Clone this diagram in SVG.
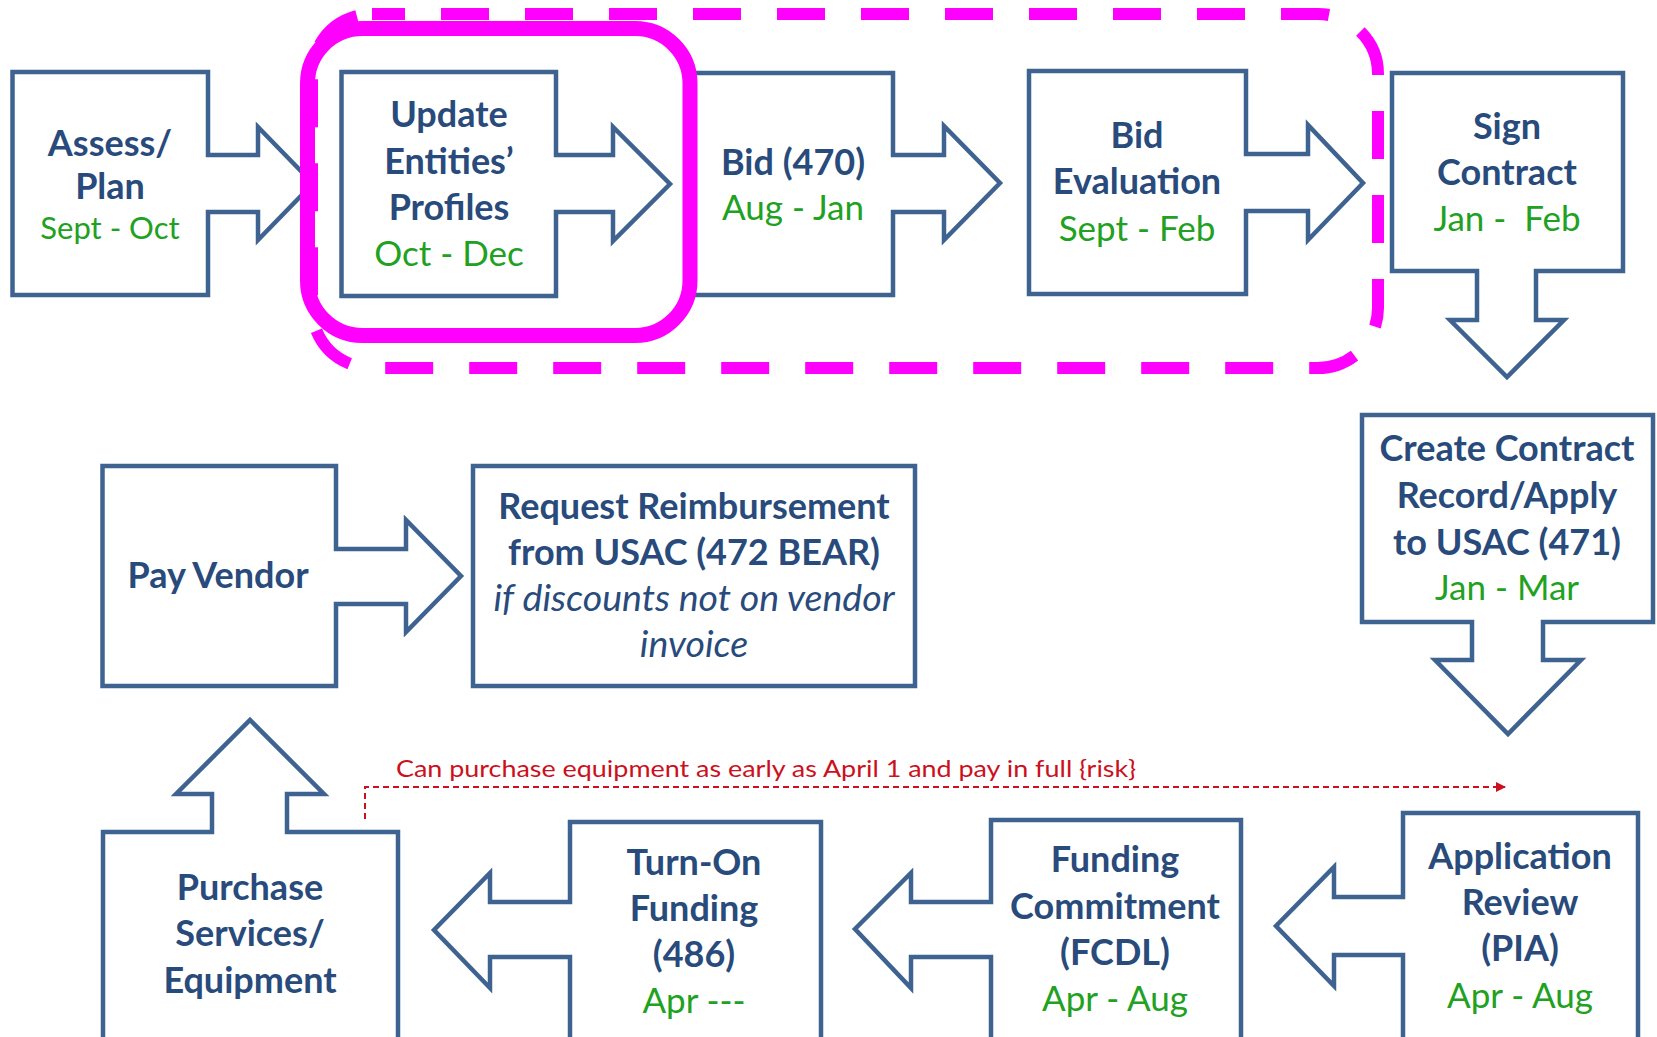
<svg xmlns="http://www.w3.org/2000/svg" width="1657" height="1037" viewBox="0 0 1657 1037">
<style>
.n{fill:#fff;stroke:#3F6391;stroke-width:4.5;stroke-linejoin:miter}
.t{font-family:Lato,"Liberation Sans",sans-serif;font-weight:bold;font-size:36px;fill:#284B7C;text-anchor:middle}
.g{font-family:Lato,"Liberation Sans",sans-serif;font-size:35px;fill:#21A121;text-anchor:middle}
.i{font-family:Lato,"Liberation Sans",sans-serif;font-style:italic;font-size:37.5px;fill:#284B7C;text-anchor:middle}
.r{font-family:Lato,"Liberation Sans",sans-serif;font-size:24px;fill:#CC1020}
</style>
<defs>
<marker id="ah" viewBox="0 0 10 10" refX="9" refY="5" markerWidth="10" markerHeight="10" markerUnits="userSpaceOnUse" orient="auto">
<path d="M0,0 L10,5 L0,10 Z" fill="#CC1020"/>
</marker>
</defs>
<rect width="1657" height="1037" fill="#fff"/>

<g id="assess">
<path class="n" d="M12.5,72 H208 V155 H258 V127 L313,183.5 L258,240 V212 H208 V295 H12.5 Z"/>
<text class="t" x="110" y="156">Assess/</text>
<text class="t" x="110" y="199">Plan</text>
<text class="g" x="110" y="239" style="font-size:31px">Sept - Oct</text>
</g>

<g id="update">
<path class="n" d="M341.5,72 H556 V155 H613 V127 L670,184 L613,241 V212 H556 V296 H341.5 Z"/>
<text class="t" x="449" y="127">Update</text>
<text class="t" x="449" y="174">Entities’</text>
<text class="t" x="449" y="220">Profiles</text>
<text class="g" x="449" y="266">Oct - Dec</text>
</g>

<g id="bid">
<path class="n" d="M689,73 H893 V155 H944 V126 L1000,183 L944,240 V212 H893 V295 H689 Z"/>
<text class="t" x="793" y="175">Bid (470)</text>
<text class="g" x="793" y="220">Aug - Jan</text>
</g>

<g id="bideval">
<path class="n" d="M1029,71 H1246 V154 H1308 V125 L1363,183 L1308,240 V211 H1246 V294 H1029 Z"/>
<text class="t" x="1137" y="148">Bid</text>
<text class="t" x="1137" y="194">Evaluation</text>
<text class="g" x="1137" y="241">Sept - Feb</text>
</g>

<g id="sign">
<path class="n" d="M1392,73 H1623 V271 H1536 V320 H1564 L1507,377 L1450,320 H1477 V271 H1392 Z"/>
<text class="t" x="1507" y="139">Sign</text>
<text class="t" x="1507" y="185">Contract</text>
<text class="g" x="1507" y="231" xml:space="preserve">Jan -  Feb</text>
</g>

<g id="create">
<path class="n" d="M1362,415 H1653 V622 H1543 V660 H1581 L1508,734 L1435,660 H1472 V622 H1362 Z"/>
<text class="t" x="1507" y="461">Create Contract</text>
<text class="t" x="1507" y="508">Record/Apply</text>
<text class="t" x="1507" y="555">to USAC (471)</text>
<text class="g" x="1507" y="600">Jan - Mar</text>
</g>

<g id="payvendor">
<path class="n" d="M102.5,466 H336 V549 H406 V520 L461,576 L406,632 V604 H336 V686 H102.5 Z"/>
<text class="t" x="218" y="588">Pay Vendor</text>
</g>

<g id="reimburse">
<rect class="n" x="473" y="466" width="442" height="220"/>
<text class="t" x="694" y="519">Request Reimbursement</text>
<text class="t" x="694" y="565">from USAC (472 BEAR)</text>
<text class="i" x="694" y="611">if discounts not on vendor</text>
<text class="i" x="694" y="657">invoice</text>
</g>

<g id="purchase">
<path class="n" d="M103,832 H212 V794 H176 L250,720 L324,794 H287 V832 H398 V1045 H103 Z"/>
<text class="t" x="250" y="900">Purchase</text>
<text class="t" x="250" y="946">Services/</text>
<text class="t" x="250" y="993">Equipment</text>
</g>

<g id="turnon">
<path class="n" d="M570,822 H821 V1045 H570 V957 H490 V988 L434,930 L490,873 V902 H570 Z"/>
<text class="t" x="694" y="875">Turn-On</text>
<text class="t" x="694" y="921">Funding</text>
<text class="t" x="694" y="967">(486)</text>
<text class="g" x="694" y="1013">Apr ---</text>
</g>

<g id="fcdl">
<path class="n" d="M991,820 H1241 V1045 H991 V957 H911 V988 L855,929 L911,873 V902 H991 Z"/>
<text class="t" x="1115" y="872">Funding</text>
<text class="t" x="1115" y="919">Commitment</text>
<text class="t" x="1115" y="965">(FCDL)</text>
<text class="g" x="1115" y="1011">Apr - Aug</text>
</g>

<g id="pia">
<path class="n" d="M1403,813 H1638 V1045 H1403 V955 H1334 V986 L1276,926 L1334,867 V897 H1403 Z"/>
<text class="t" x="1520" y="869">Application</text>
<text class="t" x="1520" y="915">Review</text>
<text class="t" x="1520" y="961">(PIA)</text>
<text class="g" x="1520" y="1008">Apr - Aug</text>
</g>

<g id="connectors">
<path d="M365,819 V787 H1505" fill="none" stroke="#CC1020" stroke-width="2" stroke-dasharray="6 4" marker-end="url(#ah)"/>
<text class="r" x="396" y="777" textLength="740" lengthAdjust="spacingAndGlyphs">Can purchase equipment as early as April 1 and pay in full {risk}</text>
</g>

<g id="highlight">
<rect x="312" y="14" width="1066" height="354" rx="60" fill="none" stroke="#FF00FF" stroke-width="12" stroke-dasharray="48 36" stroke-dashoffset="15"/>
<rect x="307.5" y="28.5" width="382.5" height="307" rx="55" fill="none" stroke="#FF00FF" stroke-width="15"/>
</g>
</svg>
